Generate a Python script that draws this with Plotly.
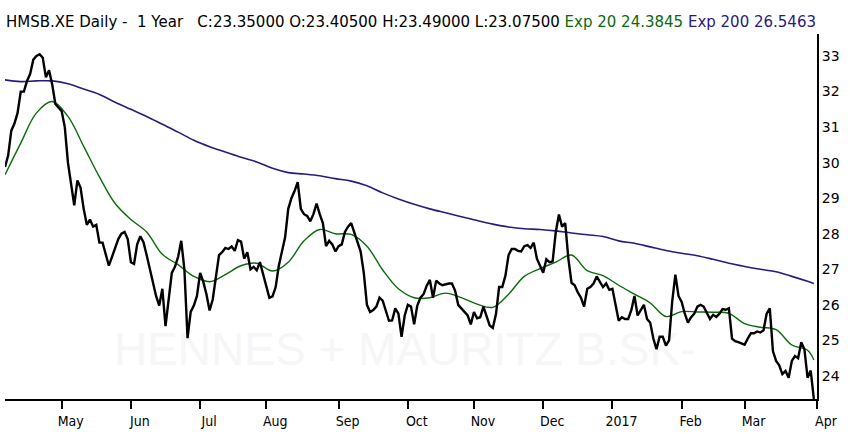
import pandas as pd
import plotly.graph_objects as go

# daily closes, one list per month (weekdays only)
close_apr16 = [29.88, 30.2, 30.9, 31.1, 31.4, 32.0, 32.0, 32.3, 32.5, 32.9,
               33.0, 33.05, 32.95, 32.4, 32.6, 32.2, 31.65, 31.55]
close_may16 = [31.45, 31.0, 30.0, 29.4, 28.8, 29.5, 29.3, 28.7, 28.25, 28.4,
               28.2, 28.25, 27.75, 27.75, 27.45, 27.1, 27.35, 27.6, 27.85, 28.0,
               28.05, 27.85]
close_jun16 = [27.2, 27.15, 27.7, 27.93, 27.76, 27.4, 27.0, 26.6, 26.25, 25.98,
               26.45, 25.4, 26.1, 26.9, 27.07, 27.35, 27.8, 27.0, 25.06, 25.8,
               25.98, 26.25]
close_jul16 = [26.9, 26.65, 26.3, 25.84, 26.15, 26.85, 27.4, 27.48, 27.6, 27.57,
               27.64, 27.52, 27.82, 27.78, 27.3, 27.48, 27.0, 27.07, 26.97, 27.2,
               26.85]
close_aug16 = [26.5, 26.2, 26.24, 26.5, 27.1, 27.5, 27.9, 28.7, 29.0, 29.2,
               29.45, 28.7, 28.55, 28.5, 28.35, 28.55, 28.85, 28.55, 28.3, 27.65,
               27.8, 27.7, 27.5]
close_sep16 = [27.65, 27.7, 28.05, 28.2, 28.3, 28.05, 27.76, 27.5, 26.9, 26.0,
               25.8, 25.85, 25.95, 26.2, 26.12, 25.82, 25.55, 25.56, 25.9, 25.75,
               25.1, 25.7]
close_oct16 = [26.0, 25.95, 25.45, 25.98, 26.2, 26.3, 26.54, 26.7, 26.2, 26.68,
               26.6, 26.55, 26.58, 26.6, 26.6, 26.4, 26.0, 25.9, 25.78, 25.7,
               25.45]
close_nov16 = [25.8, 25.62, 25.65, 25.95, 25.7, 25.42, 25.35, 25.74, 26.5, 26.5,
               26.82, 27.4, 27.57, 27.57, 27.52, 27.5, 27.65, 27.68, 27.6, 27.75,
               27.3, 27.1]
close_dec16 = [26.9, 27.28, 27.2, 27.22, 28.05, 28.54, 28.2, 28.3, 27.3, 26.62,
               26.55, 26.35, 26.2, 25.95, 26.45, 26.5, 26.6, 26.8, 26.65, 26.5,
               26.6, 26.42]
close_jan17 = [26.45, 25.95, 25.55, 25.65, 25.6, 25.6, 25.85, 26.25, 25.7, 25.85,
               26.0, 25.6, 25.5, 25.05, 24.75, 25.1, 25.1, 24.85, 25.0, 26.1,
               26.85, 26.25]
close_feb17 = [26.08, 25.75, 25.5, 25.65, 25.75, 25.95, 26.0, 25.95, 25.75, 25.6,
               25.72, 25.66, 25.75, 25.88, 25.86, 25.9, 25.05, 24.98, 24.95, 24.92]
close_mar17 = [24.88, 25.05, 25.2, 25.2, 25.25, 25.22, 25.28, 25.75, 25.9, 24.7,
               24.42, 24.3, 24.05, 24.14, 23.95, 24.42, 24.56, 24.5, 24.95, 24.75,
               23.95, 24.15, 23.35]

# moving averages read every 5th session (plus the last one)
exp20 = [29.66, 30.55, 31.4, 31.72, 31.3, 30.46, 29.6, 28.85, 28.4, 28.05,
         27.42, 27.13, 26.8, 26.65, 26.85, 27.1, 27.17, 26.95, 27.2, 27.8,
         28.12, 28.0, 27.98, 27.65, 26.98, 26.45, 26.2, 26.2, 26.33, 26.2,
         26.02, 25.93, 26.3, 26.8, 27.02, 27.2, 27.4, 26.96, 26.82, 26.55,
         26.3, 26.05, 25.67, 25.81, 25.8, 25.79, 25.76, 25.47, 25.37, 25.3,
         24.87, 24.72, 24.45]
exp200 = [32.33, 32.28, 32.3, 32.3, 32.22, 32.07, 31.92, 31.7, 31.5, 31.3,
          31.08, 30.86, 30.63, 30.45, 30.3, 30.15, 30.02, 29.84, 29.72, 29.68,
          29.63, 29.55, 29.48, 29.35, 29.15, 28.98, 28.83, 28.7, 28.59, 28.48,
          28.37, 28.27, 28.19, 28.14, 28.12, 28.08, 28.02, 27.97, 27.92, 27.8,
          27.73, 27.63, 27.53, 27.45, 27.38, 27.28, 27.17, 27.08, 27.0, 26.93,
          26.8, 26.66, 26.6]

tick_dates = ["2016-05-02", "2016-06-01", "2016-07-01", "2016-08-01", "2016-09-01",
              "2016-10-03", "2016-11-01", "2016-12-01", "2017-01-02", "2017-02-01",
              "2017-03-01", "2017-04-03"]
tick_text = ["May", "Jun", "Jul", "Aug", "Sep", "Oct", "Nov", "Dec", "2017",
             "Feb", "Mar", "Apr"]

close = (close_apr16 + close_may16 + close_jun16 + close_jul16 + close_aug16 +
         close_sep16 + close_oct16 + close_nov16 + close_dec16 + close_jan17 +
         close_feb17 + close_mar17)
dates = pd.bdate_range("2016-04-06", "2017-03-31")
ma_dates = list(dates[::5]) + [dates[-1]]

GREEN = "#0b6b0b"
NAVY = "#2a1a80"

fig = go.Figure()
# watermark sits under the lines, so it is a text trace drawn first
fig.add_trace(go.Scatter(x=["2016-09-30"], y=[24.64], mode="text",
                         text=["HENNES + MAURITZ B.SK-"], hoverinfo="skip",
                         textfont=dict(family="Liberation Sans", size=46,
                                       color="#f6f6f6")))
fig.add_trace(go.Scatter(x=ma_dates, y=exp200, mode="lines",
                         line=dict(color=NAVY, width=1.6, shape="spline")))
fig.add_trace(go.Scatter(x=ma_dates, y=exp20, mode="lines",
                         line=dict(color=GREEN, width=1.4, shape="spline")))
fig.add_trace(go.Scatter(x=dates, y=close, mode="lines",
                         line=dict(color="black", width=2.4)))

W, H, L, T, B = 812, 367, 5, 34, 33

head = ("HMSB.XE Daily -\u00a0\u00a01 Year\u00a0\u00a0\u00a0C:23.35000 O:23.40500 "
        "H:23.49000 L:23.07500 <span style='color:" + GREEN + "'>Exp 20 24.3845</span> "
        "<span style='color:" + NAVY + "'>Exp 200 26.5463</span>")

fig.update_layout(
    width=850, height=434,
    margin=dict(l=L, r=850 - L - W, t=T, b=B),
    paper_bgcolor="white", plot_bgcolor="white",
    showlegend=False,
    annotations=[
        dict(text=head, xref="paper", yref="paper", x=-1 / W, y=1 + 12 / H,
             xanchor="left", yanchor="middle", showarrow=False,
             font=dict(family="DejaVu Sans", size=15, color="black")),
    ],
    xaxis=dict(type="date", range=["2016-04-06", "2017-04-03"],
               rangebreaks=[dict(bounds=["sat", "mon"])],
               tickvals=tick_dates, ticktext=tick_text, ticklabelshift=9,
               ticks="outside", ticklen=8, tickwidth=2, tickcolor="black",
               showline=True, linecolor="black", linewidth=2, showgrid=False,
               zeroline=False,
               tickfont=dict(family="DejaVu Sans Condensed, Liberation Sans Narrow, Roboto",
                             size=14, color="black")),
    yaxis=dict(side="right", range=[23.35, 33.62], dtick=1, showgrid=False,
               showline=True, linecolor="black", linewidth=2, zeroline=False,
               ticks="",
               tickfont=dict(family="DejaVu Sans", size=14, color="black")),
)

fig.write_html("out.html", config={"displayModeBar": False},
               post_script="document.body.style.margin = '0';")
